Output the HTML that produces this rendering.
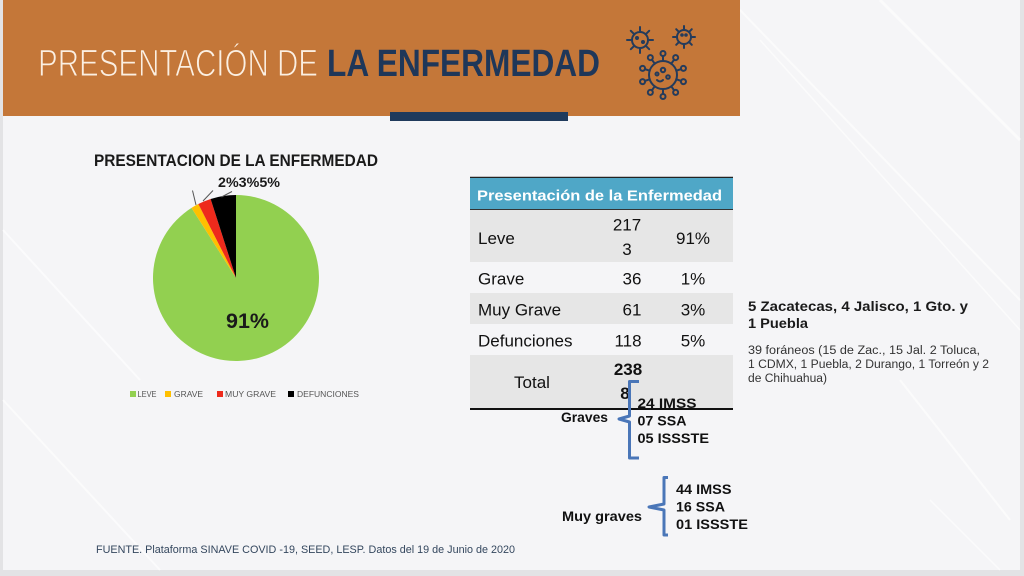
<!DOCTYPE html>
<html>
<head>
<meta charset="utf-8">
<style>
  html,body{margin:0;padding:0;background:#e4e4e6;}
  svg{display:block;}
  text{font-family:"Liberation Sans", Arial, sans-serif;}
</style>
</head>
<body>
<svg width="1024" height="576" viewBox="0 0 1024 576" xmlns="http://www.w3.org/2000/svg">
  <!-- outer frame -->
  <rect x="0" y="0" width="1024" height="576" fill="#e3e3e5"/>
  <rect x="3" y="0" width="1017" height="570" fill="#f5f5f7"/>
  <!-- subtle diagonal streaks -->
  <g stroke="#ffffff" fill="none" opacity="0.6">
    <line x1="740" y1="10" x2="1020" y2="300" stroke-width="2"/>
    <line x1="760" y1="40" x2="1020" y2="330" stroke-width="1.5"/>
    <line x1="880" y1="0" x2="1020" y2="140" stroke-width="3"/>
    <line x1="900" y1="380" x2="1010" y2="520" stroke-width="2"/>
    <line x1="930" y1="500" x2="1000" y2="570" stroke-width="1.5"/>
    <line x1="3" y1="400" x2="160" y2="570" stroke-width="2"/>
    <line x1="3" y1="230" x2="140" y2="380" stroke-width="2"/>
  </g>

  <!-- banner -->
  <rect x="3" y="0" width="737" height="116" fill="#c47739"/>
  <text x="38" y="76" font-size="38" fill="#fbefe2" stroke="#c47739" stroke-width="1.1" textLength="280" lengthAdjust="spacingAndGlyphs">PRESENTACIÓN DE</text>
  <text x="327" y="76" font-size="38" font-weight="bold" fill="#1f3759" textLength="273" lengthAdjust="spacingAndGlyphs">LA ENFERMEDAD</text>
  <rect x="390" y="112" width="178" height="9" fill="#1f3a5c"/>

  <!-- virus icons -->
  <g stroke="#243b5b" stroke-width="2" fill="none" stroke-linecap="round">
    <!-- small A -->
    <circle cx="640" cy="40" r="8"/>
    <g>
      <line x1="640" y1="32" x2="640" y2="27"/>
      <line x1="640" y1="32" x2="640" y2="27" transform="rotate(45 640 40)"/>
      <line x1="640" y1="32" x2="640" y2="27" transform="rotate(90 640 40)"/>
      <line x1="640" y1="32" x2="640" y2="27" transform="rotate(135 640 40)"/>
      <line x1="640" y1="32" x2="640" y2="27" transform="rotate(180 640 40)"/>
      <line x1="640" y1="32" x2="640" y2="27" transform="rotate(225 640 40)"/>
      <line x1="640" y1="32" x2="640" y2="27" transform="rotate(270 640 40)"/>
      <line x1="640" y1="32" x2="640" y2="27" transform="rotate(315 640 40)"/>
    </g>
    <circle cx="637" cy="38" r="1" fill="#243b5b"/>
    <circle cx="643" cy="42" r="1" fill="#243b5b"/>
    <!-- small B -->
    <circle cx="684" cy="37" r="7"/>
    <line x1="684" y1="30" x2="684" y2="26"/>
    <line x1="684" y1="30" x2="684" y2="26" transform="rotate(45 684 37)"/>
    <line x1="684" y1="30" x2="684" y2="26" transform="rotate(90 684 37)"/>
    <line x1="684" y1="30" x2="684" y2="26" transform="rotate(135 684 37)"/>
    <line x1="684" y1="30" x2="684" y2="26" transform="rotate(180 684 37)"/>
    <line x1="684" y1="30" x2="684" y2="26" transform="rotate(225 684 37)"/>
    <line x1="684" y1="30" x2="684" y2="26" transform="rotate(270 684 37)"/>
    <line x1="684" y1="30" x2="684" y2="26" transform="rotate(315 684 37)"/>
    <circle cx="682" cy="35" r="0.8" fill="#243b5b"/>
    <circle cx="686" cy="35" r="0.8" fill="#243b5b"/>
    <!-- large C -->
    <circle cx="663" cy="75" r="14"/>
    <g><line x1="663" y1="61" x2="663" y2="56"/><circle cx="663" cy="53.5" r="2.5"/></g>
    <g transform="rotate(36 663 75)"><line x1="663" y1="61" x2="663" y2="56"/><circle cx="663" cy="53.5" r="2.5"/></g>
    <g transform="rotate(72 663 75)"><line x1="663" y1="61" x2="663" y2="56"/><circle cx="663" cy="53.5" r="2.5"/></g>
    <g transform="rotate(108 663 75)"><line x1="663" y1="61" x2="663" y2="56"/><circle cx="663" cy="53.5" r="2.5"/></g>
    <g transform="rotate(144 663 75)"><line x1="663" y1="61" x2="663" y2="56"/><circle cx="663" cy="53.5" r="2.5"/></g>
    <g transform="rotate(180 663 75)"><line x1="663" y1="61" x2="663" y2="56"/><circle cx="663" cy="53.5" r="2.5"/></g>
    <g transform="rotate(216 663 75)"><line x1="663" y1="61" x2="663" y2="56"/><circle cx="663" cy="53.5" r="2.5"/></g>
    <g transform="rotate(252 663 75)"><line x1="663" y1="61" x2="663" y2="56"/><circle cx="663" cy="53.5" r="2.5"/></g>
    <g transform="rotate(288 663 75)"><line x1="663" y1="61" x2="663" y2="56"/><circle cx="663" cy="53.5" r="2.5"/></g>
    <g transform="rotate(324 663 75)"><line x1="663" y1="61" x2="663" y2="56"/><circle cx="663" cy="53.5" r="2.5"/></g>
    <circle cx="663" cy="70" r="2.2"/>
    <circle cx="668" cy="77" r="1.8"/>
    <circle cx="657" cy="74" r="1.5"/>
    <path d="M657,80 q3,3 6,0"/>
  </g>

  <!-- pie chart title -->
  <text x="94" y="166" font-size="16.5" font-weight="bold" fill="#1a1a1a" textLength="284" lengthAdjust="spacingAndGlyphs">PRESENTACION DE LA ENFERMEDAD</text>

  <!-- pie -->
  <path d="M236,278 L236,195 A83,83 0 1,1 191.51,207.93 Z" fill="#92d050"/>
  <path d="M236,278 L191.51,207.93 A83,83 0 0,1 198.34,204.04 Z" fill="#ffc000"/>
  <path d="M236,278 L198.34,204.04 A83,83 0 0,1 210.64,198.97 Z" fill="#ee2a1c"/>
  <path d="M236,278 L210.64,198.97 A83,83 0 0,1 236,195 Z" fill="#000000"/>
  <!-- leader lines -->
  <g stroke="#555" stroke-width="1">
    <line x1="196" y1="205" x2="192.5" y2="190.5"/>
    <line x1="203" y1="201" x2="213" y2="190.5"/>
    <line x1="221.5" y1="197" x2="232" y2="191.5"/>
  </g>
  <text x="218" y="187" font-size="14" font-weight="bold" fill="#1a1a1a" textLength="62" lengthAdjust="spacingAndGlyphs">2%3%5%</text>
  <text x="226" y="328" font-size="21" font-weight="bold" fill="#1a1a1a" textLength="43" lengthAdjust="spacingAndGlyphs">91%</text>

  <!-- legend -->
  <rect x="130" y="391" width="6" height="6" fill="#92d050"/>
  <text x="137.5" y="397" font-size="8.5" fill="#555" textLength="19" lengthAdjust="spacingAndGlyphs">LEVE</text>
  <rect x="165" y="391" width="6" height="6" fill="#ffc000"/>
  <text x="174" y="397" font-size="8.5" fill="#555" textLength="29" lengthAdjust="spacingAndGlyphs">GRAVE</text>
  <rect x="217" y="391" width="6" height="6" fill="#ee2a1c"/>
  <text x="225" y="397" font-size="8.5" fill="#555" textLength="51" lengthAdjust="spacingAndGlyphs">MUY GRAVE</text>
  <rect x="288" y="391" width="6" height="6" fill="#000"/>
  <text x="297" y="397" font-size="8.5" fill="#555" textLength="62" lengthAdjust="spacingAndGlyphs">DEFUNCIONES</text>

  <!-- table -->
  <line x1="470" y1="177.5" x2="733" y2="177.5" stroke="#222" stroke-width="1.5"/>
  <rect x="470" y="178" width="263" height="31" fill="#4fa7c7"/>
  <line x1="470" y1="209.5" x2="733" y2="209.5" stroke="#333" stroke-width="1"/>
  <text x="477" y="200.5" font-size="15" font-weight="bold" fill="#ffffff" textLength="245" lengthAdjust="spacingAndGlyphs">Presentación de la Enfermedad</text>
  <rect x="470" y="210" width="263" height="52" fill="#e6e6e6"/>
  <rect x="470" y="293" width="263" height="31" fill="#e6e6e6"/>
  <rect x="470" y="355" width="263" height="53" fill="#e6e6e6"/>
  <line x1="470" y1="409" x2="733" y2="409" stroke="#111" stroke-width="2"/>

  <g font-size="17" fill="#111">
    <text x="478" y="244">Leve</text>
    <text x="627" y="230.5" text-anchor="middle">217</text>
    <text x="627" y="255" text-anchor="middle">3</text>
    <text x="693" y="244" text-anchor="middle">91%</text>

    <text x="478" y="284.5">Grave</text>
    <text x="632" y="284.5" text-anchor="middle">36</text>
    <text x="693" y="284.5" text-anchor="middle">1%</text>

    <text x="478" y="315.5">Muy Grave</text>
    <text x="632" y="315.5" text-anchor="middle">61</text>
    <text x="693" y="315.5" text-anchor="middle">3%</text>

    <text x="478" y="346.5">Defunciones</text>
    <text x="628" y="346.5" text-anchor="middle">118</text>
    <text x="693" y="346.5" text-anchor="middle">5%</text>

    <text x="532" y="388" text-anchor="middle">Total</text>
    <text x="628" y="375" text-anchor="middle" font-weight="bold">238</text>
    <text x="625" y="399" text-anchor="middle" font-weight="bold">8</text>
  </g>

  <!-- brackets -->
  <g stroke="#4a76b8" stroke-width="3" fill="none" stroke-linejoin="round">
    <path d="M639,381.5 L629.5,381.5 L629.5,416 L619,419 L629.5,422 L629.5,458 L639,458"/>
    <path d="M668,477.5 L664,477.5 L664,504 L649,507 L664,510 L664,535 L668,535"/>
  </g>

  <!-- graves text -->
  <g font-size="14" font-weight="bold" fill="#111">
    <text x="561" y="422" textLength="47" lengthAdjust="spacingAndGlyphs">Graves</text>
    <text x="637.5" y="408" textLength="59" lengthAdjust="spacingAndGlyphs">24  IMSS</text>
    <text x="637.5" y="425.5" textLength="49" lengthAdjust="spacingAndGlyphs">07 SSA</text>
    <text x="637.5" y="443" textLength="71.5" lengthAdjust="spacingAndGlyphs">05 ISSSTE</text>

    <text x="562" y="521" textLength="80" lengthAdjust="spacingAndGlyphs">Muy graves</text>
    <text x="676" y="494" textLength="55.5" lengthAdjust="spacingAndGlyphs">44 IMSS</text>
    <text x="676" y="511.5" textLength="49" lengthAdjust="spacingAndGlyphs">16 SSA</text>
    <text x="676" y="529" textLength="72" lengthAdjust="spacingAndGlyphs">01 ISSSTE</text>
  </g>

  <!-- right notes -->
  <g fill="#1a1a1a">
    <text x="748" y="311" font-size="13.5" font-weight="bold" textLength="220" lengthAdjust="spacingAndGlyphs">5 Zacatecas, 4  Jalisco, 1 Gto. y</text>
    <text x="748" y="328" font-size="13.5" font-weight="bold" textLength="60" lengthAdjust="spacingAndGlyphs">1 Puebla</text>
    <text x="748" y="354" font-size="11.5" fill="#333" textLength="232" lengthAdjust="spacingAndGlyphs">39 foráneos (15 de Zac., 15 Jal. 2 Toluca,</text>
    <text x="748" y="368" font-size="11.5" fill="#333" textLength="241" lengthAdjust="spacingAndGlyphs">1 CDMX, 1 Puebla, 2 Durango, 1 Torreón y 2</text>
    <text x="748" y="382" font-size="11.5" fill="#333" textLength="79" lengthAdjust="spacingAndGlyphs">de Chihuahua)</text>
  </g>

  <!-- footer -->
  <text x="96" y="553" font-size="11" fill="#34475e" textLength="419" lengthAdjust="spacingAndGlyphs">FUENTE. Plataforma SINAVE COVID -19, SEED, LESP. Datos del 19 de Junio de 2020</text>
</svg>
</body>
</html>
